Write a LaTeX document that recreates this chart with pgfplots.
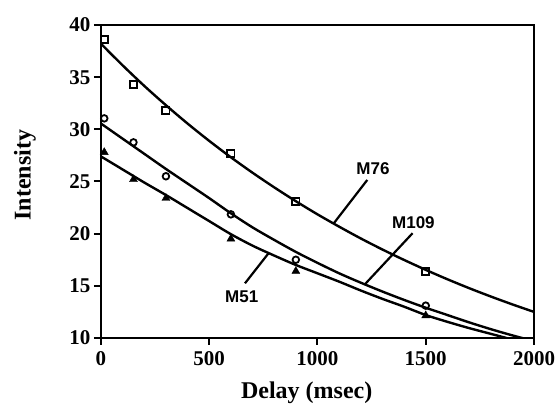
\documentclass[border=0pt]{standalone}
\usepackage{pgfplots}
\pgfplotsset{compat=1.18}
\usepackage{fontspec}
\setmainfont{Liberation Serif}
\newfontfamily\labfont{Liberation Sans}

\begin{document}
\begin{tikzpicture}
\begin{axis}[
    name=ax,
    scale only axis,
    width=433pt, height=313pt,
    xmin=0, xmax=2000, ymin=10, ymax=40,
    xtick={0,500,1000,1500,2000},
    ytick={10,15,20,25,30,35,40},
    xtick pos=bottom, ytick pos=left,
    tick align=outside,
    major tick length=7pt,
    tick style={line width=2pt, black},
    axis line style={line width=2.4pt},
    xticklabel style={font=\fontsize{21}{21}\selectfont\bfseries, yshift=-3pt},
    yticklabel style={font=\fontsize{21}{21}\selectfont\bfseries},
    /pgf/number format/assume math mode=true,
    /pgf/number format/set thousands separator={},
    xlabel={Delay (msec)},
    ylabel={Intensity},
    xlabel style={font=\fontsize{24}{24}\selectfont\bfseries, at={(axis description cs:0.475,0)}, anchor=center, yshift=-55pt},
    ylabel style={font=\fontsize{24}{24}\selectfont\bfseries, at={(axis description cs:-0.176,0.52)}, anchor=center},
]
% fitted curves
\addplot[black, line width=2.4pt, smooth] coordinates {
    (0,38.2) (100,36.13) (200,34.16) (300,32.31) (400,30.55) (500,28.89)
    (600,27.32) (700,25.84) (800,24.44) (900,23.11) (1000,21.85) (1100,20.67)
    (1200,19.54) (1300,18.48) (1400,17.48) (1500,16.53) (1600,15.63)
    (1700,14.78) (1800,13.98) (1900,13.22) (2000,12.5)
};
\addplot[black, line width=2.4pt, smooth] coordinates {
    (0,30.55) (100,29.1) (200,27.65) (300,26.2) (400,24.8) (500,23.4)
    (600,21.95) (700,20.6) (800,19.4) (900,18.25) (1000,17.2) (1100,16.2)
    (1200,15.3) (1300,14.45) (1400,13.65) (1500,12.9) (1600,12.2)
    (1700,11.5) (1800,10.85) (1900,10.25) (2000,9.7)
};
\addplot[black, line width=2.4pt, smooth] coordinates {
    (0,27.4) (100,26.15) (200,24.9) (300,23.7) (400,22.45) (500,21.2)
    (600,19.95) (700,18.85) (800,17.9) (900,17.0) (1000,16.2) (1100,15.4)
    (1200,14.55) (1300,13.75) (1400,13.0) (1500,12.2) (1600,11.55)
    (1700,10.95) (1800,10.4) (1900,9.85) (2000,9.3)
};
% measured points
\addplot[only marks, mark=square, mark size=3.6pt, mark options={line width=1.8pt, fill=white}] coordinates {
    (15,38.6) (150,34.3) (300,31.8) (600,27.7) (900,23.1) (1500,16.35)
};
\addplot[only marks, mark=o, mark size=3.3pt, mark options={line width=1.8pt, fill=white}] coordinates {
    (15,31.05) (150,28.75) (300,25.5) (600,21.85) (900,17.5) (1500,13.1)
};
\addplot[only marks, mark=triangle*, mark size=4.6pt, mark options={fill=black}] coordinates {
    (15,27.8) (150,25.2) (300,23.4) (600,19.5) (900,16.4) (1500,12.15)
};
% labels
\draw[line width=2.2pt] (axis cs:1230,25.15) -- (axis cs:1074,20.96);
\node[font=\labfont\fontsize{17}{17}\selectfont\bfseries] at (axis cs:1256,26.2) {M76};
\draw[line width=2.2pt] (axis cs:1439,20.04) -- (axis cs:1219,15.15);
\node[font=\labfont\fontsize{17}{17}\selectfont\bfseries] at (axis cs:1443,21.1) {M109};
\draw[line width=2.2pt] (axis cs:665,15.24) -- (axis cs:773,18.1);
\node[font=\labfont\fontsize{17}{17}\selectfont\bfseries] at (axis cs:650,13.96) {M51};
\end{axis}
\path ([shift={(-101pt,-72pt)}]ax.south west) rectangle ([shift={(26pt,25pt)}]ax.north east);
\end{tikzpicture}
\end{document}
